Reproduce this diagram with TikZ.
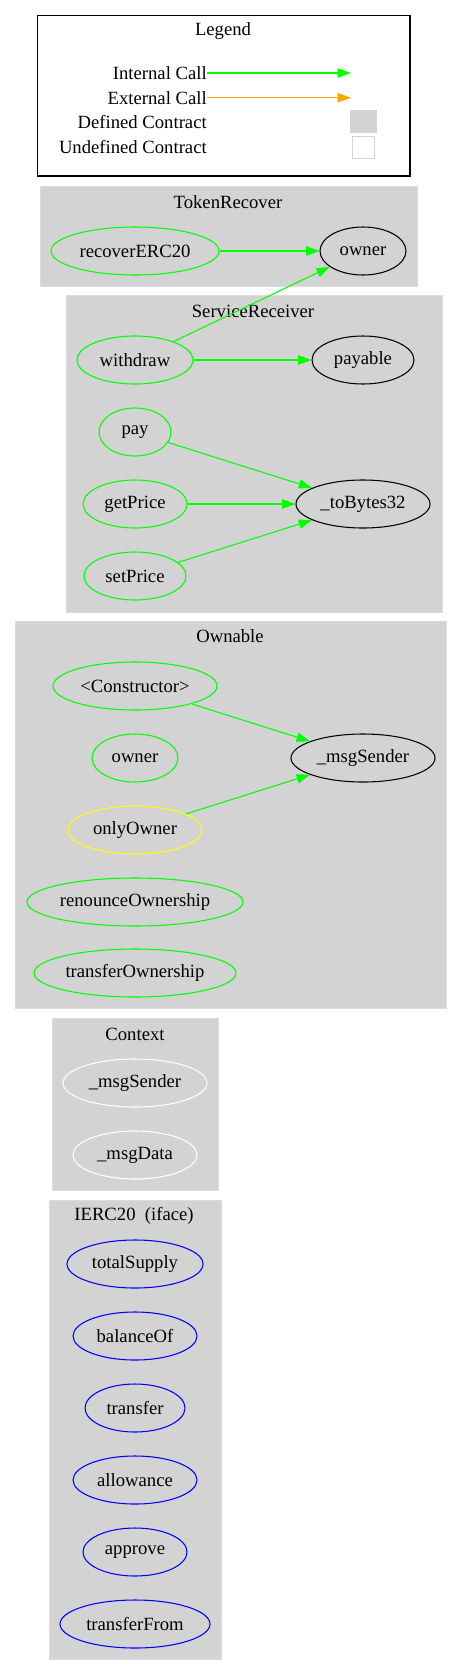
\documentclass[tikz,border=0pt]{standalone}
\usepackage{fontspec}
\setmainfont{Liberation Serif}
\usetikzlibrary{shapes.geometric,arrows.meta}
\definecolor{gvgreen}{HTML}{00FF00}
\definecolor{gvorange}{HTML}{FFA500}
\definecolor{gvyellow}{HTML}{FFFF00}
\definecolor{gvblue}{HTML}{0000FF}
\definecolor{gvgray}{HTML}{D3D3D3}
\tikzstyle{fn}=[ellipse, draw, line width=0.8pt, minimum height=36pt, inner sep=0pt, font=\fontsize{14}{16}\selectfont]
\tikzstyle{internal}=[fn, draw=gvgreen]
\tikzstyle{modifier}=[fn, draw=gvyellow]
\tikzstyle{iface}=[fn, draw=gvblue]
\tikzstyle{inherited}=[fn, draw=white]
\tikzstyle{callee}=[fn, draw=black]
\tikzstyle{cluster}=[fill=gvgray, draw=gvgray!80!white]
\tikzstyle{title}=[font=\fontsize{14}{16}\selectfont, inner sep=0pt]
\tikzstyle{call}=[draw=gvgreen, line width=0.8pt, -{Triangle[length=10pt,width=7pt]}]
\tikzstyle{extcall}=[draw=gvorange, line width=0.8pt, -{Triangle[length=10pt,width=7pt]}]
\tikzset{wd/.style={minimum width=#1*1.5pt}}

\begin{document}
\begin{tikzpicture}[x=0.75pt,y=-0.75pt]
\useasboundingbox (0,0) rectangle (462,1675);

% legend
\draw[line width=0.9pt] (37.7,15.7) rectangle (410,176);
\draw (223,31) node[title] (tLegend) {Legend};
\draw (207,73) node[title, anchor=east] (lInternal) {Internal Call};
\draw (207,97.7) node[title, anchor=east] (lExternal) {External Call};
\draw (207,122) node[title, anchor=east] (lDefined) {Defined Contract};
\draw (207,147) node[title, anchor=east] (lUndefined) {Undefined Contract};
\coordinate (lInternalEnd) at (351,73);
\coordinate (lExternalEnd) at (351,97.7);
\draw[call] (lInternal.east) -- (lInternalEnd);
\draw[extcall] (lExternal.east) -- (lExternalEnd);
\fill[gvgray] (350,110) rectangle (377,133);
\draw[gvgray, fill=white] (352,136) rectangle (374,158);

% clusters
\fill[cluster] (40,186) rectangle (417,286);
\fill[cluster] (66,295) rectangle (442,612);
\fill[cluster] (15,621) rectangle (446,1008);
\fill[cluster] (52,1018) rectangle (218,1190);
\fill[cluster] (49,1200) rectangle (221,1659);

\draw (228,202) node[title] (tTokenRecover) {TokenRecover};
\draw (253,311) node[title] (tServiceReceiver) {ServiceReceiver};
\draw (230,636) node[title] (tOwnable) {Ownable};
\draw (135,1034) node[title] (tContext) {Context};
\draw (134,1216) node[title] (tIERC) {IERC20~ (iface)};

% TokenRecover
\draw (135,251) node[internal, wd=84] (recoverERC) {recoverERC20};
\draw (363,251) node[callee, wd=43] (trOwner) {owner};

% ServiceReceiver
\draw (135,360) node[internal, wd=58] (withdraw) {withdraw};
\draw (363,360) node[callee, wd=51] (payable) {payable};
\draw (135,432) node[internal, wd=36] (pay) {pay};
\draw (135,504) node[internal, wd=52] (getPrice) {getPrice};
\draw (135,576) node[internal, wd=51] (setPrice) {setPrice};
\draw (363,504) node[callee, wd=67] (toBytes) {\_toBytes32};

% Ownable
\draw (135,686) node[internal, wd=82] (ctor) {<Constructor>};
\draw (135,758) node[internal, wd=43] (owOwner) {owner};
\draw (135,830) node[modifier, wd=67] (onlyOwner) {onlyOwner};
\draw (135,902) node[internal, wd=108] (renounce) {renounceOwnership};
\draw (135,973) node[internal, wd=101] (transferOwn) {transferOwnership};
\draw (363,758) node[callee, wd=72] (owSender) {\_msgSender};

% Context
\draw (135,1083) node[inherited, wd=72] (ctxSender) {\_msgSender};
\draw (135,1155) node[inherited, wd=62] (ctxData) {\_msgData};

% IERC20
\draw (135,1264) node[iface, wd=68] (totalSupply) {totalSupply};
\draw (135,1336) node[iface, wd=62] (balanceOf) {balanceOf};
\draw (135,1408) node[iface, wd=50] (transfer) {transfer};
\draw (135,1480) node[iface, wd=62] (allowance) {allowance};
\draw (135,1552) node[iface, wd=52] (approve) {approve};
\draw (135,1624) node[iface, wd=75] (transferFrom) {transferFrom};

% calls
\draw[call] (recoverERC) -- (trOwner);
\draw[call] (withdraw) -- (trOwner);
\draw[call] (withdraw) -- (payable);
\draw[call] (pay) -- (toBytes);
\draw[call] (getPrice) -- (toBytes);
\draw[call] (setPrice) -- (toBytes);
\draw[call] (ctor) -- (owSender);
\draw[call] (onlyOwner) -- (owSender);
\end{tikzpicture}
\end{document}
